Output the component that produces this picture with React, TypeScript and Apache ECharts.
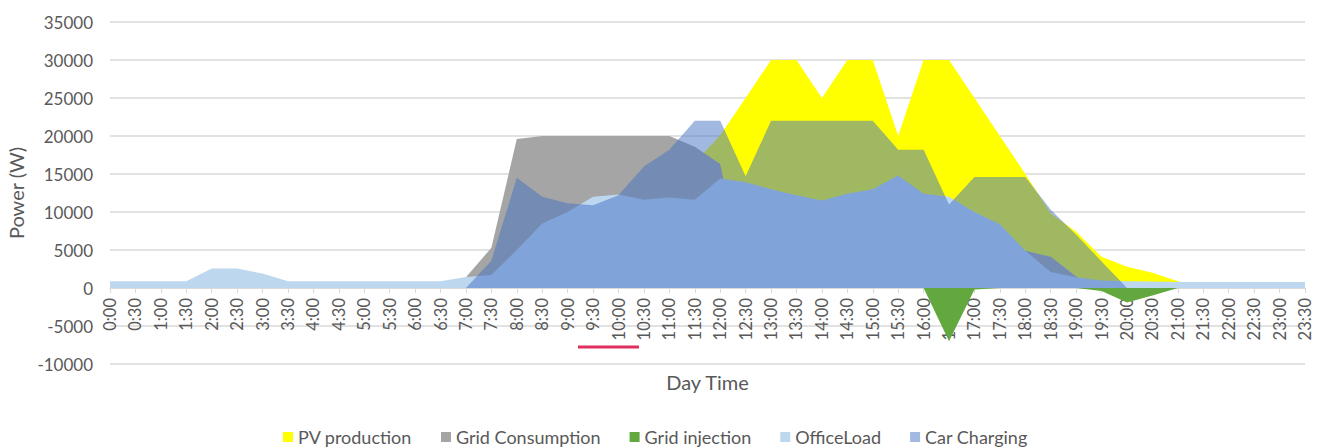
import React, { useEffect, useRef } from "react";
import * as echarts from "echarts";

const categories = [
  "0:00", "0:30", "1:00", "1:30", "2:00", "2:30", "3:00", "3:30",
  "4:00", "4:30", "5:00", "5:30", "6:00", "6:30", "7:00", "7:30",
  "8:00", "8:30", "9:00", "9:30", "10:00", "10:30", "11:00", "11:30",
  "12:00", "12:30", "13:00", "13:30", "14:00", "14:30", "15:00", "15:30",
  "16:00", "16:30", "17:00", "17:30", "18:00", "18:30", "19:00", "19:30",
  "20:00", "20:30", "21:00", "21:30", "22:00", "22:30", "23:00", "23:30",
];

const pvProduction = [
  0, 0, 0, 0, 0, 0, 0, 0,
  0, 0, 0, 0, 0, 0, 300, 1200,
  2500, 4000, 6000, 8000, 10000, 12000, 14000, 16500,
  20100, 25000, 30000, 30000, 25000, 30000, 30000, 20000,
  30000, 30000, 25000, 20000, 15000, 9800, 7400, 4100,
  2800, 2000, 900, 0, 0, 0, 0, 0,
];

const gridConsumption = [
  0, 0, 0, 0, 0, 0, 0, 0,
  0, 0, 0, 0, 0, 0, 1400, 5300,
  19600, 20000, 20000, 20000, 20000, 20000, 20000, 18600,
  16300, 0, 0, 0, 0, 0, 0, 0,
  0, 0, 0, 0, 4900, 4100, 1500, 0,
  0, 0, 0, 0, 0, 0, 0, 0,
];

const gridInjection = [
  0, 0, 0, 0, 0, 0, 0, 0,
  0, 0, 0, 0, 0, 0, 0, 0,
  0, 0, 0, 0, 0, 0, 0, 0,
  0, 0, 0, 0, 0, 0, 0, 0,
  0, -7000, -200, 0, 0, 0, 0, -400,
  -1900, -1000, 0, 0, 0, 0, 0, 0,
];

const officeLoad = [
  900, 900, 900, 900, 2550, 2550, 1900, 900,
  900, 900, 900, 900, 900, 900, 1450, 1700,
  5000, 8500, 10000, 12000, 12300, 11600, 11900, 11600,
  14400, 13900, 13000, 12200, 11500, 12400, 13000, 14800,
  12400, 12000, 10000, 8400, 4900, 2100, 1400, 1000,
  900, 850, 800, 800, 800, 800, 800, 800,
];

const carCharging = [
  0, 0, 0, 0, 0, 0, 0, 0,
  0, 0, 0, 0, 0, 0, 0, 3600,
  14500, 12000, 11150, 10900, 12200, 16000, 18200, 22000,
  22000, 14700, 22000, 22000, 22000, 22000, 22000, 18200,
  18200, 11000, 14600, 14600, 14600, 10300, 7000, 3500,
  0, 0, 0, 0, 0, 0, 0, 0,
];

const FONT = "Lato, 'Open Sans', sans-serif";
const TXT = "#595959";

function areaSeries(name: string, data: number[], color: string, opacity: number) {
  return {
    name,
    type: "line",
    data,
    symbol: "none",
    showSymbol: false,
    lineStyle: { width: 0, opacity: 0 },
    itemStyle: { color },
    areaStyle: { color, opacity },
    emphasis: { disabled: true },
    silent: true,
  };
}

export default function App() {
  const ref = useRef<HTMLDivElement>(null);
  useEffect(() => {
    document.body.style.margin = "0";
    if (!ref.current) return;
    const chart = echarts.init(ref.current, undefined, { renderer: "svg" });
    chart.setOption({
      animation: false,
      backgroundColor: "#ffffff",
      textStyle: { fontFamily: FONT },
      grid: {
        left: 110,
        right: 18,
        top: 22,
        bottom: 84,
        containLabel: false,
        outerBoundsMode: "none",
      },
      xAxis: {
        type: "category",
        data: categories,
        boundaryGap: false,
        offset: -76,
        name: "Day Time",
        nameLocation: "middle",
        nameGap: 84,
        nameTextStyle: { color: TXT, fontSize: 20, fontFamily: FONT },
        axisLine: { onZero: false, lineStyle: { color: "#D9D9D9", width: 1 } },
        axisTick: { show: true, length: 5, lineStyle: { color: "#D9D9D9" }, interval: 0 },
        axisLabel: {
          rotate: 90,
          interval: 0,
          margin: 10,
          color: TXT,
          fontSize: 16.5,
          fontFamily: FONT,
        },
        splitLine: { show: false },
      },
      yAxis: {
        type: "value",
        min: -10000,
        max: 35000,
        interval: 5000,
        name: "Power (W)",
        nameLocation: "middle",
        nameGap: 82,
        nameTextStyle: { color: TXT, fontSize: 20, fontFamily: FONT },
        axisLine: { show: false },
        axisTick: { show: false },
        axisLabel: {
          color: TXT,
          fontSize: 17,
          margin: 17,
          fontFamily: FONT,
          formatter: (v: number) => String(v),
        },
        splitLine: { lineStyle: { color: "#D9D9D9", width: 1.5 } },
      },
      legend: {
        top: 428,
        left: 283,
        icon: "rect",
        itemWidth: 10,
        itemHeight: 10,
        itemGap: 29,
        padding: 0,
        textStyle: { color: TXT, fontSize: 18, fontFamily: FONT },
        data: [
          { name: "PV production", itemStyle: { color: "#FFFF00" } },
          { name: "Grid Consumption", itemStyle: { color: "#A5A5A5" } },
          { name: "Grid injection", itemStyle: { color: "#62A83E" } },
          { name: "OfficeLoad", itemStyle: { color: "#BDD7EE" } },
          { name: "Car Charging", itemStyle: { color: "#A2B9E2" } },
        ],
        selectedMode: false,
      },
      series: [
        areaSeries("PV production", pvProduction, "#FFFF00", 1),
        areaSeries("Grid Consumption", gridConsumption, "#A5A5A5", 1),
        areaSeries("Grid injection", gridInjection, "#62A83E", 1),
        areaSeries("OfficeLoad", officeLoad, "#BDD7EE", 1),
        areaSeries("Car Charging", carCharging, "#4472C4", 0.5),
      ],
      graphic: [
        {
          type: "line",
          shape: { x1: 578, y1: 347, x2: 639, y2: 347 },
          style: { stroke: "#E0305F", lineWidth: 3 },
          z: 100,
        },
      ],
    });
    return () => chart.dispose();
  }, []);
  return <div ref={ref} style={{ width: 1323, height: 448 }} />;
}
